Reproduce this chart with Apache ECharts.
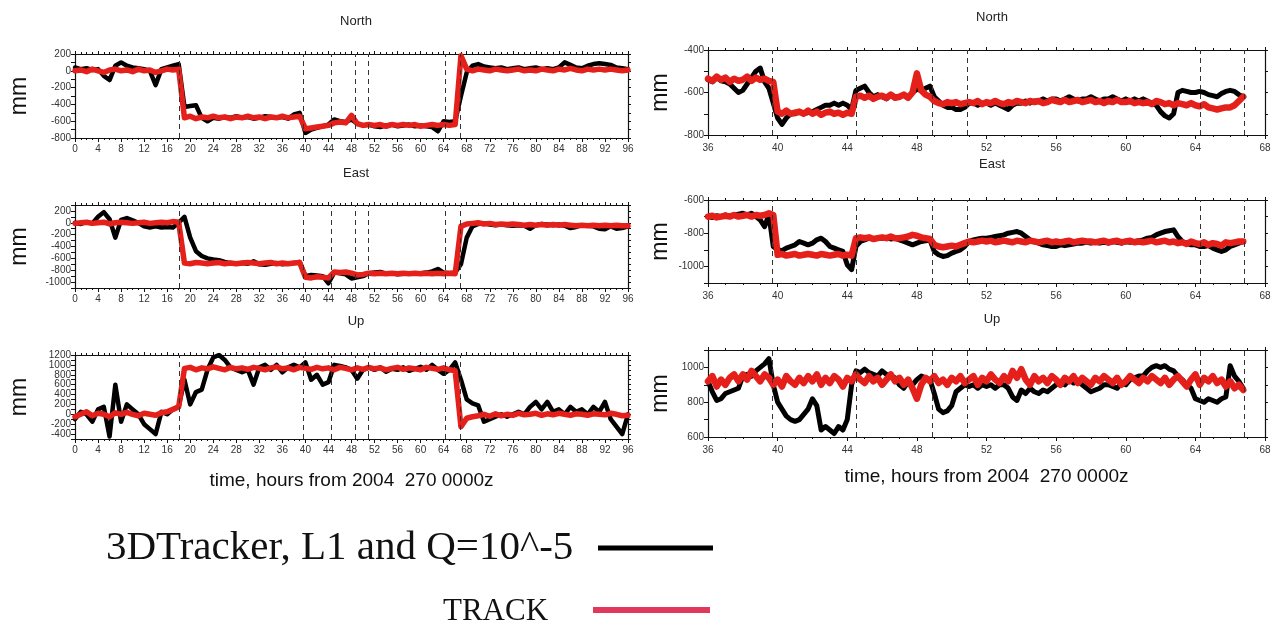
<!DOCTYPE html>
<html>
<head>
<meta charset="utf-8">
<title>3DTracker vs TRACK</title>
<script src="https://cdn.jsdelivr.net/npm/echarts@6.0.0/dist/echarts.min.js"></script>
<style>
  html, body { margin: 0; padding: 0; background: #fff; }
  #chart { width: 1278px; height: 629px; }
</style>
</head>
<body>
<div id="chart"></div>
<script>
// time sampling: left column every hour 0..96, right column every 15 min 36..66.75
var leftStart = 0, leftStep = 1;
var rightStart = 36, rightStep = 0.25;

// dashed event markers (hours)
var leftDashed = [18.1, 39.7, 44.5, 48.7, 50.9, 64.3, 66.8];
var rightDashed = [39.7, 44.5, 48.9, 50.9, 64.3, 66.8];

var xAxisTitle = 'time, hours from 2004  270 0000z';
var legendBlack = '3DTracker, L1 and Q=10^-5';
var legendRed = 'TRACK';

// ---- left column, hourly (0..96) ----
var leftNorthBlack = [40,20,30,10,20,-60,-110,60,100,60, 40,30,20,0,-170,20,40,60,80,-430,
  -420,-410,-560,-600,-560,-570,-550,-560,-540,-560, -550,-570,-560,-540,-550,-560,-550,-570,-520,-500,
  -740,-700,-680,-660,-640,-580,-600,-610,-580,-630, -650,-640,-660,-670,-650,-640,-660,-650,-640,-660,
  -650,-660,-670,-720,-600,-610,-600,-300,-20,60, 80,50,40,30,40,20,30,40,20,30,
  40,20,30,20,40,100,70,40,30,60, 80,90,80,70,40,30,20];
var leftNorthRed = [0,10,-10,20,0,-20,10,20,0,10, -10,20,0,10,-20,0,20,10,20,-560,
  -540,-570,-550,-560,-540,-560,-550,-570,-550,-560, -540,-560,-550,-570,-550,-560,-540,-560,-550,-540,
  -690,-680,-670,-660,-650,-620,-610,-620,-530,-630, -650,-640,-650,-640,-660,-640,-650,-640,-650,-640,
  -660,-650,-640,-650,-640,-650,-640,180,20,0, 20,10,0,20,10,0,10,20,0,10,
  0,20,10,0,20,10,30,10,0,20, 10,20,10,20,10,0,10];

var leftEastBlack = [0,-20,10,-10,100,180,60,-250,50,80, 40,0,-60,-80,-60,-80,-70,-80,0,100,
  -250,-480,-560,-600,-620,-630,-660,-680,-690,-680, -690,-650,-700,-710,-690,-680,-700,-690,-680,-660,
  -900,-880,-890,-900,-1020,-840,-850,-870,-940,-920, -900,-850,-840,-830,-860,-850,-870,-860,-850,-860,
  -850,-840,-820,-780,-840,-850,-840,-700,-250,-60, -20,-10,-30,-40,-30,-40,-50,-40,-50,-100,
  -40,-20,-30,-40,-30,-50,-90,-70,-40,-50, -60,-100,-110,-60,-100,-90,-60];
var leftEastRed = [-10,0,10,-10,0,10,-20,0,10,0, -10,0,10,-10,0,10,0,20,10,-680,
  -690,-670,-680,-690,-680,-670,-690,-680,-690,-680, -670,-680,-690,-680,-670,-690,-680,-690,-680,-670,
  -920,-930,-910,-920,-930,-830,-840,-830,-850,-880, -870,-850,-860,-850,-860,-850,-860,-850,-860,-850,
  -860,-850,-860,-850,-860,-850,-860,-60,-20,-10, 0,-20,-10,-30,-20,-30,-20,-30,-40,-30,
  -40,-30,-40,-30,-40,-30,-40,-50,-40,-50, -40,-50,-40,-50,-40,-50,-50];

var leftUpBlack = [-100,50,0,-150,100,150,-450,600,-150,200, 100,0,-200,-300,-400,50,0,100,150,700,
  200,450,500,900,1150,1200,1100,950,900,850, 900,600,950,1000,900,1000,850,950,1000,950,
  1050,700,800,600,650,1000,980,950,900,720, 900,950,900,950,860,920,900,950,880,920,
  960,900,1000,900,820,900,1050,700,300,220, 180,-150,-100,-50,0,-50,0,50,0,150,
  250,100,250,50,100,0,150,50,100,0, 150,50,250,-100,-250,-400,0];
var leftUpRed = [-50,0,50,-30,20,0,-50,30,0,40, 0,-30,20,0,-20,30,50,100,150,930,
  950,900,940,920,960,930,900,950,920,940, 910,950,930,900,940,960,920,940,900,950,
  930,910,950,920,940,900,950,930,900,940, 910,950,920,940,900,930,950,910,940,920,
  900,950,930,910,940,900,880,-250,-80,-50, -30,0,-40,10,-30,0,-20,20,-10,0,
  20,-20,10,-10,20,0,-20,10,0,-20, 10,0,-10,20,0,-30,-20];

// ---- right column, every 15 min (36..66.75), one row per hour ----
var rightNorthBlack = [
  -540,-550,-530,-545, -550,-560,-580,-600, -590,-560,-530,-500, -485,-550,-580,-650,
  -720,-750,-720,-700, -700,-690,-700,-695, -690,-680,-670,-660, -660,-650,-660,-650,
  -660,-680,-590,-580, -570,-600,-620,-610, -620,-630,-610,-620, -620,-610,-620,-600,
  -585,-590,-580,-570, -620,-640,-660,-670, -670,-680,-680,-670, -650,-650,-660,-650,
  -650,-660,-650,-660, -670,-680,-660,-650, -650,-640,-650,-640, -640,-630,-640,-630,
  -630,-640,-630,-620, -630,-640,-630,-630, -620,-630,-640,-630, -630,-620,-630,-640,
  -630,-640,-630,-640, -630,-640,-650,-660, -690,-710,-720,-700, -600,-590,-595,-600,
  -600,-595,-600,-610, -615,-620,-605,-595, -590,-595,-610,-620];
var rightNorthRed = [
  -535,-545,-525,-540, -530,-550,-535,-545, -540,-525,-545,-530, -540,-535,-545,-550,
  -690,-700,-685,-700, -695,-690,-700,-685, -700,-690,-705,-695, -690,-700,-695,-705,
  -695,-700,-620,-615, -625,-615,-630,-620, -615,-625,-610,-625, -620,-610,-625,-600,
  -510,-590,-610,-620, -640,-650,-655,-645, -650,-645,-655,-650, -645,-650,-640,-655,
  -645,-650,-640,-650, -655,-645,-650,-640, -645,-650,-640,-645, -640,-650,-645,-635,
  -640,-645,-635,-645, -640,-635,-645,-640, -635,-645,-640,-650, -640,-645,-635,-645,
  -645,-640,-650,-645, -650,-645,-655,-640, -645,-655,-650,-660, -650,-655,-660,-650,
  -660,-665,-655,-670, -675,-680,-675,-670, -670,-660,-640,-620];

var rightEastBlack = [
  -700,-705,-695,-700, -690,-700,-690,-685, -680,-690,-680,-700, -720,-760,-690,-880,
  -900,-905,-890,-880, -870,-850,-860,-870, -860,-840,-830,-850, -880,-890,-900,-910,
  -990,-1020,-880,-850, -840,-830,-835,-830, -830,-825,-835,-830, -840,-850,-860,-870,
  -860,-850,-845,-840, -910,-930,-940,-935, -920,-910,-900,-880, -850,-840,-835,-830,
  -830,-825,-820,-815, -810,-800,-795,-790, -800,-820,-840,-850, -860,-870,-875,-880,
  -880,-870,-875,-870, -865,-860,-860,-855, -860,-855,-860,-855, -860,-850,-855,-860,
  -850,-855,-850,-845, -840,-830,-825,-810, -800,-790,-785,-780, -820,-850,-860,-870,
  -870,-880,-880,-875, -890,-900,-910,-900, -880,-870,-860,-850];
var rightEastRed = [
  -700,-695,-705,-700, -695,-700,-690,-700, -695,-690,-700,-690, -695,-690,-680,-690,
  -930,-925,-935,-930, -925,-935,-930,-925, -930,-935,-925,-930, -935,-930,-925,-935,
  -930,-935,-830,-825, -830,-825,-835,-830, -825,-830,-820,-830, -830,-825,-820,-810,
  -815,-825,-830,-835, -870,-880,-885,-880, -875,-880,-870,-860, -850,-855,-850,-845,
  -850,-845,-855,-850, -845,-850,-855,-845, -850,-855,-845,-850, -855,-850,-845,-855,
  -850,-855,-850,-845, -855,-850,-845,-850, -850,-855,-850,-845, -855,-850,-845,-855,
  -850,-845,-855,-850, -855,-850,-845,-855, -850,-845,-855,-850, -860,-855,-865,-850,
  -860,-865,-855,-870, -860,-865,-875,-855, -860,-855,-850,-850];

var rightUpBlack = [
  920,860,810,820, 850,860,870,880, 950,960,950,980, 1000,1020,1050,900,
  800,760,720,700, 690,700,730,760, 820,780,640,660, 640,620,660,640,
  700,900,980,970, 990,970,960,950, 980,960,950,940, 900,880,920,900,
  930,950,940,930, 850,760,740,750, 780,860,880,900, 890,900,880,900,
  890,900,880,900, 900,880,830,810, 870,850,880,860, 850,870,860,880,
  900,920,900,930, 910,920,900,880, 860,870,880,900, 900,890,880,910,
  900,930,940,950, 950,980,1000,1010, 1000,1010,990,980, 950,930,900,880,
  820,810,800,820, 810,800,820,830, 1010,950,920,880];
var rightUpRed = [
  920,950,890,930, 900,940,960,920, 960,930,980,950, 920,960,940,900,
  930,890,950,920, 900,940,910,950, 920,960,900,940, 910,950,930,890,
  940,920,960,930, 910,950,920,940, 900,930,960,920, 940,900,930,880,
  820,900,940,920, 950,910,930,900, 940,920,950,910, 930,950,900,940,
  920,960,930,910, 950,920,980,940, 990,930,900,950, 920,940,910,950,
  930,900,940,920, 950,910,940,920, 900,940,920,950, 930,910,940,900,
  920,950,930,910, 940,920,950,930, 910,940,900,930, 950,920,890,930,
  960,900,940,920, 950,910,930,890, 920,880,900,870];

var panels = [
  {name:'North', start:leftStart, step:leftStep, black:leftNorthBlack, red:leftNorthRed, xMin:0, xMax:96, yMin:-800, yMax:200, dashed:leftDashed},
  {name:'East', start:leftStart, step:leftStep, black:leftEastBlack, red:leftEastRed, xMin:0, xMax:96, yMin:-1100, yMax:300, dashed:leftDashed},
  {name:'Up', start:leftStart, step:leftStep, black:leftUpBlack, red:leftUpRed, xMin:0, xMax:96, yMin:-500, yMax:1200, dashed:leftDashed, xName:true},
  {name:'North', start:rightStart, step:rightStep, black:rightNorthBlack, red:rightNorthRed, xMin:36, xMax:68, yMin:-800, yMax:-400, dashed:rightDashed},
  {name:'East', start:rightStart, step:rightStep, black:rightEastBlack, red:rightEastRed, xMin:36, xMax:68, yMin:-1100, yMax:-600, dashed:rightDashed},
  {name:'Up', start:rightStart, step:rightStep, black:rightUpBlack, red:rightUpRed, xMin:36, xMax:68, yMin:600, yMax:1100, dashed:rightDashed, xName:true}
];

// pixel boxes of the six plots
var boxes = [
  {left:75, top:54, width:553, height:84, tx:351, ty:18},
  {left:75, top:205, width:553, height:83, tx:351, ty:170},
  {left:75, top:355, width:553, height:84, tx:351, ty:318},
  {left:708, top:50, width:557, height:85, tx:987, ty:14},
  {left:708, top:200, width:557, height:83, tx:987, ty:161},
  {left:708, top:350, width:557, height:87, tx:987, ty:316}
];

var FONT = '"Liberation Sans", Arial, sans-serif';
var SERIF = '"Liberation Serif", "Times New Roman", serif';
var INK = '#111';

function pairs(start, step, vals) {
  return vals.map(function (v, i) { return [start + i * step, v]; });
}

var grid = [], xAxis = [], yAxis = [], series = [], title = [];

panels.forEach(function (p, i) {
  var b = boxes[i];
  grid.push({left: b.left, top: b.top, width: b.width, height: b.height, show: false});
  title.push({text: p.name, left: b.tx, top: b.ty - 8, textAlign: 'center',
    textStyle: {fontFamily: FONT, fontSize: 13, fontWeight: 'normal', color: '#222'}});
});

// main axes (bottom / left) carry labels
panels.forEach(function (p, i) {
  xAxis.push({
    type: 'value', gridIndex: i, position: 'bottom', min: p.xMin, max: p.xMax, interval: 4,
    axisLine: {show: true, onZero: false, lineStyle: {color: INK, width: 1.2}},
    axisTick: {show: true, length: 4, lineStyle: {color: INK}},
    minorTick: {show: true, splitNumber: 4, length: 2, lineStyle: {color: INK}},
    splitLine: {show: false},
    axisLabel: {fontFamily: FONT, fontSize: 10, color: '#333', margin: i < 3 ? 6 : 8},
    name: p.xName ? xAxisTitle : '', nameLocation: 'middle', nameGap: i < 3 ? 32 : 30,
    nameTextStyle: {fontFamily: FONT, fontSize: 19, color: INK}
  });
  yAxis.push({
    type: 'value', gridIndex: i, position: 'left', min: p.yMin, max: p.yMax, interval: 100,
    axisLine: {show: true, onZero: false, lineStyle: {color: INK, width: 1.2}},
    axisTick: {show: true, length: 4, lineStyle: {color: INK}},
    splitLine: {show: false},
    axisLabel: {fontFamily: FONT, fontSize: 10, color: '#333', margin: 4,
      formatter: function (v) { return v % 200 === 0 ? String(v) : ''; }},
    name: 'mm', nameLocation: 'middle', nameGap: i < 3 ? 44 : 36, nameRotate: 90,
    nameTextStyle: {fontFamily: FONT, fontSize: 23, color: INK}
  });
});
// frame axes (top / right), ticks only
panels.forEach(function (p, i) {
  xAxis.push({
    type: 'value', gridIndex: i, position: 'top', min: p.xMin, max: p.xMax, interval: 4,
    axisLine: {show: true, onZero: false, lineStyle: {color: INK, width: 1.2}},
    axisTick: {show: true, length: 3, lineStyle: {color: INK}},
    minorTick: {show: true, splitNumber: 4, length: 2, lineStyle: {color: INK}},
    splitLine: {show: false}, axisLabel: {show: false}
  });
  yAxis.push({
    type: 'value', gridIndex: i, position: 'right', min: p.yMin, max: p.yMax, interval: 100,
    axisLine: {show: true, onZero: false, lineStyle: {color: INK, width: 1.2}},
    axisTick: {show: true, length: 3, lineStyle: {color: INK}},
    splitLine: {show: false}, axisLabel: {show: false}
  });
});

panels.forEach(function (p, i) {
  var right = i >= 3;
  series.push({
    name: legendBlack, type: 'line', xAxisIndex: i, yAxisIndex: i,
    data: pairs(p.start, p.step, p.black), symbol: 'none', z: 2,
    lineStyle: {color: '#000', width: right ? 5 : 4.5, join: 'round', cap: 'round'},
    markLine: {
      silent: true, symbol: 'none', label: {show: false},
      lineStyle: {color: '#333', type: [5, 4], width: 1},
      data: p.dashed.map(function (h) { return {xAxis: h}; })
    }
  });
  series.push({
    name: legendRed, type: 'line', xAxisIndex: i, yAxisIndex: i,
    data: pairs(p.start, p.step, p.red), symbol: 'none', z: 3,
    lineStyle: {color: '#e5201b', width: right ? 6.5 : 5.5, join: 'round', cap: 'round'}
  });
});

var chart = echarts.init(document.getElementById('chart'), null, {renderer: 'canvas'});
chart.setOption({
  backgroundColor: '#fff',
  animation: false,
  title: title,
  grid: grid,
  xAxis: xAxis,
  yAxis: yAxis,
  series: series,
  graphic: [
    {type: 'text', x: 106, y: 548, style: {text: legendBlack, font: '41px ' + SERIF, fill: INK, verticalAlign: 'middle'}},
    {type: 'line', shape: {x1: 598, y1: 548, x2: 713, y2: 548}, style: {stroke: '#000', lineWidth: 5}},
    {type: 'text', x: 443, y: 612, style: {text: legendRed, font: '31px ' + SERIF, fill: INK, verticalAlign: 'middle'}},
    {type: 'line', shape: {x1: 593, y1: 610, x2: 710, y2: 610}, style: {stroke: '#e2385d', lineWidth: 6}}
  ]
});
</script>
</body>
</html>
